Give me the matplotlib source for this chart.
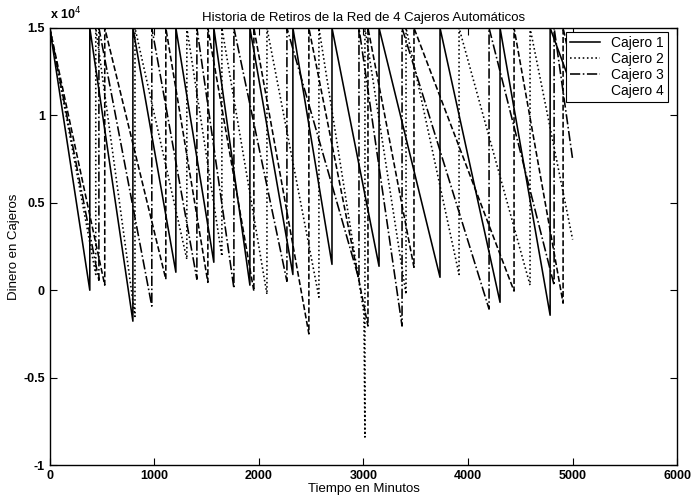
import matplotlib
matplotlib.use('Agg')
import matplotlib.pyplot as plt
from matplotlib.ticker import FuncFormatter

plt.rcParams['font.family'] = ['Liberation Sans', 'DejaVu Sans']

# ---- data ----
capacity = 15000
t_end = 5000
labels = ['Cajero 1', 'Cajero 2', 'Cajero 3', 'Cajero 4']

refill_c1 = [383, 795, 1206, 1569, 1914, 2325, 2699, 3149, 3732, 4306, 4785]
min_c1 = [0, -1770, 1030, 1600, 290, 900, 1480, 1370, 740, -690, -1430]
end_c1 = 11500

refill_c2 = [440, 815, 1311, 1646, 2077, 2574, 3014, 3407, 3914, 4593]
min_c2 = [900, -1500, 1770, 1940, -230, -400, -8400, -230, 900, 290]
end_c2 = 2900
# point just before the deep drop near t = 3000 (almost vertical dotted line)
pre_drop_c2 = {3014: (3004, -1300)}

refill_c3 = [470, 976, 1407, 1761, 2268, 2957, 3369, 4201, 4823]
min_c3 = [570, -910, 630, 110, 510, 630, -2050, -1080, 290]
end_c3 = 7500

refill_c4 = [526, 1110, 1512, 1952, 2478, 3043, 3483, 4440, 4909]
min_c4 = [290, 630, 450, -50, -2500, -2050, 1310, -50, -740]
end_c4 = 12500

xticks = [0, 1000, 2000, 3000, 4000, 5000, 6000]
yticks = [-10000, -5000, 0, 5000, 10000, 15000]


def build(refills, mins, end, extra=None):
    extra = extra or {}
    xs, ys = [0], [capacity]
    for t, m in zip(refills, mins):
        if t in extra:
            xs.append(extra[t][0])
            ys.append(extra[t][1])
        xs += [t, t]
        ys += [m, capacity]
    xs.append(t_end)
    ys.append(end)
    return xs, ys


series = [build(refill_c1, min_c1, end_c1),
          build(refill_c2, min_c2, end_c2, pre_drop_c2),
          build(refill_c3, min_c3, end_c3),
          build(refill_c4, min_c4, end_c4)]
styles = ['-', ':', '-.', '--']

fig = plt.figure(figsize=(6.91, 4.99), dpi=100)
ax = fig.add_axes([0.072, 0.068, 0.908, 0.876])

for (xs, ys), ls, lab in zip(series, styles, labels):
    ax.plot(xs, ys, color='black', linestyle=ls, linewidth=1.15, label=lab)

ax.set_xlim(0, 6000)
ax.set_ylim(-10000, 15000)
ax.set_xticks(xticks)
ax.set_yticks(yticks)
ax.yaxis.set_major_formatter(FuncFormatter(lambda v, p: f"{v/1e4:g}"))
ax.tick_params(direction='in', top=True, right=True, length=5, width=0.8,
               labelsize=9)
for lab in ax.get_xticklabels() + ax.get_yticklabels():
    lab.set_fontweight('bold')
for sp in ax.spines.values():
    sp.set_linewidth(1.0)

ax.text(0.0, 1.012, r'x 10$^{4}$', transform=ax.transAxes, fontsize=9,
        fontweight='bold', ha='left', va='bottom')

ax.set_title('Historia de Retiros de la Red de 4 Cajeros Automáticos',
             fontsize=9.5, pad=5)
ax.set_xlabel('Tiempo en Minutos', fontsize=9.5, labelpad=1)
ax.set_ylabel('Dinero en Cajeros', fontsize=9.5, labelpad=2)

leg = ax.legend(loc='upper right', bbox_to_anchor=(0.986, 0.991),
                borderaxespad=0, fontsize=10, fancybox=False,
                framealpha=1, edgecolor='black', handlelength=2.2,
                labelspacing=0.15, borderpad=0.3)
leg.get_frame().set_linewidth(0.8)
leg.get_lines()[3].set_alpha(0)

fig.savefig('out.png', dpi=100, facecolor='white')
